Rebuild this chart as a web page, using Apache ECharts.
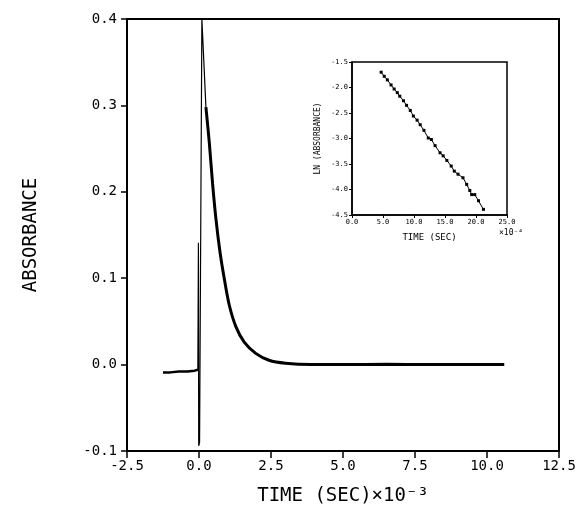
<!DOCTYPE html>
<html>
<head>
<meta charset="utf-8">
<script src="https://cdn.jsdelivr.net/npm/echarts@6/dist/echarts.min.js"></script>
<style>
  html, body { margin: 0; padding: 0; background: #fff; }
  #chart { width: 588px; height: 511px; }
</style>
</head>
<body>
<div id="chart"></div>
<script>
// main trace: time in ms (x10^-3 s), absorbance
const baseTime = [-1.25, -1.0, -0.7, -0.4, -0.15, -0.04];
const baseAbs = [-0.009, -0.009, -0.008, -0.008, -0.007, -0.006];

const spikeTime = [-0.04, -0.02, -0.01, 0.02, 0.1, 0.24];
const spikeAbs = [-0.006, 0.141, -0.094, -0.09, 0.4, 0.298];

const decayTime = [0.24, 0.36, 0.47, 0.59, 0.73, 0.88, 1.05, 1.28, 1.57, 1.97, 2.43, 3.0, 3.9, 5.0, 6.5, 8.0, 10.6];
const decayAbs = [0.298, 0.256, 0.210, 0.168, 0.130, 0.099, 0.069, 0.044, 0.026, 0.013, 0.005, 0.0015, 0.0, 0.0, 0.0005, 0.0, 0.0];

// inset: ln(absorbance) vs time (x10^-4 s)
const lnTime = [4.7, 5.2, 5.7, 6.3, 6.8, 7.3, 7.7, 8.3, 8.8, 9.4, 9.9, 10.5, 11.0, 11.6, 12.3,
  12.8, 13.4, 14.2, 14.7, 15.3, 16.0, 16.5, 17.1, 17.9, 18.5, 19.0, 19.3, 19.8, 20.4, 21.2];
const lnAbs = [-1.70, -1.78, -1.85, -1.95, -2.03, -2.10, -2.17, -2.26, -2.35, -2.45, -2.56, -2.64, -2.73, -2.84, -2.99,
  -3.02, -3.14, -3.28, -3.34, -3.43, -3.54, -3.64, -3.70, -3.77, -3.90, -4.02, -4.10, -4.10, -4.22, -4.39];

const pairs = (xs, ys) => xs.map((x, i) => [x, ys[i]]);
const mono = "'DejaVu Sans Mono', monospace";

const chart = echarts.init(document.getElementById('chart'));
chart.setOption({
  animation: false,
  backgroundColor: '#fff',
  grid: [
    { left: 127, right: 29, top: 19, bottom: 58, show: true, borderColor: '#000', borderWidth: 2 },
    { left: 352, right: 81, top: 62, bottom: 296, show: true, borderColor: '#000', borderWidth: 1.5 }
  ],
  xAxis: [
    {
      gridIndex: 0, type: 'value', min: -2.5, max: 12.5, interval: 2.5,
      axisLine: { onZero: false, lineStyle: { color: '#000', width: 2 } },
      axisTick: { length: 7, lineStyle: { color: '#000', width: 1.5 } },
      splitLine: { show: false },
      axisLabel: { color: '#000', fontFamily: mono, fontSize: 14, margin: 8,
        formatter: v => v.toFixed(1) },
      name: 'TIME (SEC)\u00d710\u207b\u00b3', nameLocation: 'middle', nameGap: 36,
      nameTextStyle: { color: '#000', fontFamily: mono, fontSize: 19 }
    },
    {
      gridIndex: 1, type: 'value', min: 0, max: 25, interval: 5,
      axisLine: { onZero: false, lineStyle: { color: '#000', width: 1.5 } },
      axisTick: { length: 3, lineStyle: { color: '#000' } },
      splitLine: { show: false },
      axisLabel: { color: '#000', fontFamily: mono, fontSize: 7, margin: 4,
        formatter: v => v.toFixed(1) },
      name: 'TIME (SEC)', nameLocation: 'middle', nameGap: 18,
      nameTextStyle: { color: '#000', fontFamily: mono, fontSize: 9 }
    }
  ],
  yAxis: [
    {
      gridIndex: 0, type: 'value', min: -0.1, max: 0.4, interval: 0.1,
      axisLine: { onZero: false, lineStyle: { color: '#000', width: 2 } },
      axisTick: { length: 6, lineStyle: { color: '#000', width: 1.5 } },
      splitLine: { show: false },
      axisLabel: { color: '#000', fontFamily: mono, fontSize: 14, margin: 10,
        formatter: v => v.toFixed(1) },
      name: 'ABSORBANCE', nameLocation: 'middle', nameGap: 86,
      nameTextStyle: { color: '#000', fontFamily: mono, fontSize: 19 }
    },
    {
      gridIndex: 1, type: 'value', min: -4.5, max: -1.5, interval: 0.5,
      axisLine: { onZero: false, lineStyle: { color: '#000', width: 1.5 } },
      axisTick: { length: 3, lineStyle: { color: '#000' } },
      splitLine: { show: false },
      axisLabel: { color: '#000', fontFamily: mono, fontSize: 7, margin: 4,
        formatter: v => v.toFixed(1) },
      name: 'LN (ABSORBANCE)', nameLocation: 'middle', nameGap: 30,
      nameTextStyle: { color: '#000', fontFamily: mono, fontSize: 8 }
    }
  ],
  graphic: [
    { type: 'text', left: 499, top: 229,
      style: { text: '\u00d710\u207b\u2074', fontFamily: mono, fontSize: 8, fill: '#000' } }
  ],
  series: [
    { type: 'line', xAxisIndex: 0, yAxisIndex: 0, data: pairs(baseTime, baseAbs),
      showSymbol: false, lineStyle: { color: '#000', width: 2.5 } },
    { type: 'line', xAxisIndex: 0, yAxisIndex: 0, data: pairs(spikeTime, spikeAbs),
      showSymbol: false, lineStyle: { color: '#000', width: 1.2 } },
    { type: 'line', xAxisIndex: 0, yAxisIndex: 0, data: pairs(decayTime, decayAbs),
      showSymbol: false, smooth: 0.3,
      lineStyle: { color: '#000', width: 3 } },
    { type: 'line', xAxisIndex: 1, yAxisIndex: 1, data: pairs(lnTime, lnAbs),
      symbol: 'rect', symbolSize: 3, itemStyle: { color: '#000' },
      lineStyle: { color: '#000', width: 1 } }
  ]
});
</script>
</body>
</html>
